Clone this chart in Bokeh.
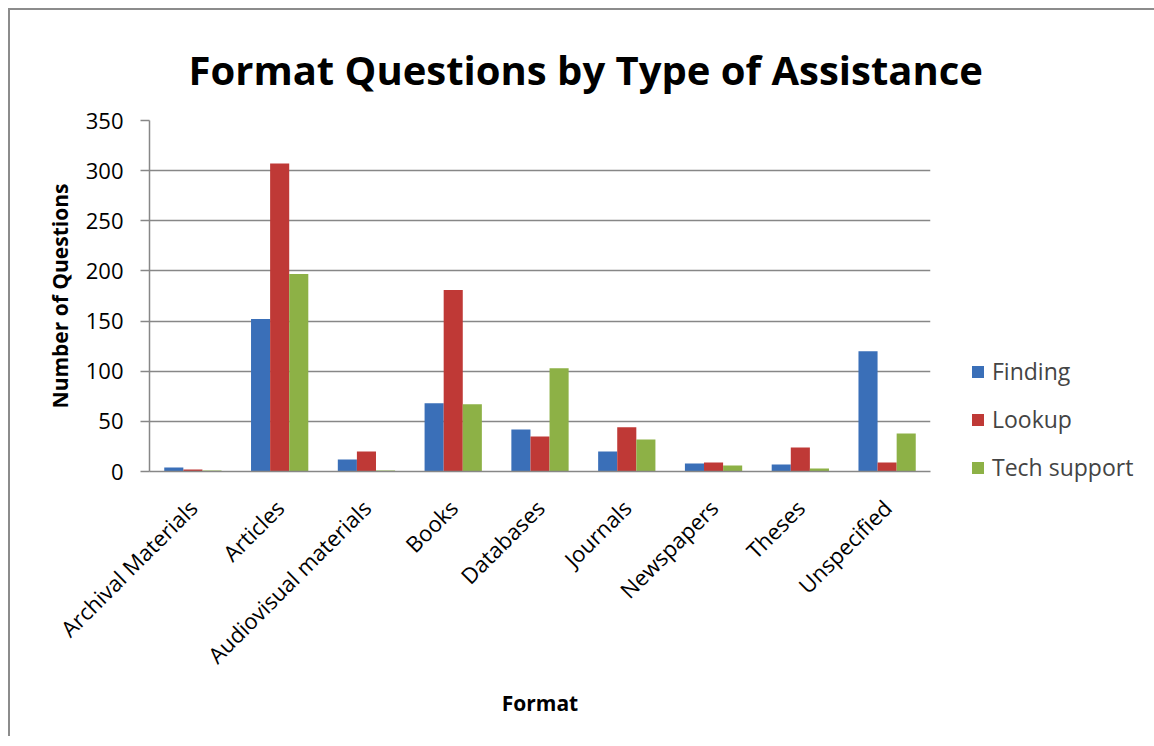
import math
from bokeh.plotting import figure
from bokeh.models import FactorRange, ColumnDataSource, Legend, LegendItem, Range1d
from bokeh.transform import dodge
from bokeh.embed import file_html
from bokeh.resources import INLINE

categories = ["Archival Materials", "Articles", "Audiovisual materials", "Books",
              "Databases", "Journals", "Newspapers", "Theses", "Unspecified"]
finding = [4, 152, 12, 68, 42, 20, 8, 7, 120]
lookup = [2, 307, 20, 181, 35, 44, 9, 24, 9]
tech_support = [1, 197, 1, 67, 103, 32, 6, 3, 38]
series_names = ["Finding", "Lookup", "Tech support"]
colors = ["#3a6fb8", "#bf3936", "#8db146"]
y_ticks = [0, 50, 100, 150, 200, 250, 300, 350]

FONT = "Open Sans"
GRID = "#878787"

src = ColumnDataSource(data=dict(cat=categories, finding=finding, lookup=lookup, tech=tech_support))

p = figure(frame_width=781, frame_height=351, x_range=FactorRange(*categories, range_padding=0),
           y_range=Range1d(0, 350), output_backend="svg", toolbar_location=None,
           min_border_left=139, min_border_right=214, min_border_top=110, min_border_bottom=265,
           title="Format Questions by Type of Assistance")
p.styles = {"margin-left": "8px", "margin-top": "8px",
            "border-left": "2px solid #8c8c8c", "border-top": "2px solid #8c8c8c"}
p.border_fill_color = "white"
p.outline_line_color = None

p.title.align = "left"
p.title.vertical_align = "top"
p.title.offset = 39
p.title.standoff = 44
p.title.text_font = FONT
p.title.text_font_style = "bold"
p.title.text_font_size = "40px"
p.title.text_color = "black"

fields = ["finding", "lookup", "tech"]
renderers = []
for i, f in enumerate(fields):
    r = p.vbar(x=dodge("cat", (i - 1) * 0.22, range=p.x_range), top=f, width=0.22,
               source=src, fill_color=colors[i], line_color=None)
    renderers.append(r)

p.xgrid.grid_line_color = None
p.ygrid.grid_line_color = GRID
p.ygrid.grid_line_width = 1.5
p.ygrid.level = "underlay"

p.yaxis.ticker = y_ticks
p.yaxis.axis_line_color = GRID
p.yaxis.axis_line_width = 1.5
p.yaxis.major_tick_line_color = GRID
p.yaxis.major_tick_line_width = 1.5
p.yaxis.major_tick_out = 9
p.yaxis.major_tick_in = 0
p.yaxis.minor_tick_line_color = None
p.yaxis.major_label_text_font = FONT
p.yaxis.major_label_text_font_size = "22px"
p.yaxis.major_label_text_color = "black"
p.yaxis.major_label_standoff = 17
p.yaxis.axis_label = "Number of Questions"
p.yaxis.axis_label_text_font = FONT
p.yaxis.axis_label_text_font_style = "bold"
p.yaxis.axis_label_text_font_size = "21px"
p.yaxis.axis_label_text_color = "black"
p.yaxis.axis_label_standoff = 9

p.xaxis.axis_line_color = GRID
p.xaxis.axis_line_width = 1.5
p.xaxis.major_tick_line_color = None
p.xaxis.minor_tick_line_color = None
p.xaxis.major_label_orientation = math.pi / 4
p.xaxis.major_label_text_font = FONT
p.xaxis.major_label_text_font_size = "22px"
p.xaxis.major_label_text_color = "black"
p.xaxis.major_label_standoff = 26
p.xaxis.axis_label = "Format"
p.xaxis.axis_label_text_font = FONT
p.xaxis.axis_label_text_font_style = "bold"
p.xaxis.axis_label_text_font_size = "21px"
p.xaxis.axis_label_text_color = "black"
p.xaxis.axis_label_standoff = 6

legend = Legend(items=[LegendItem(label=n, renderers=[r]) for n, r in zip(series_names, renderers)],
                location=(40, -12))
legend.glyph_width = 15
legend.glyph_height = 15
legend.label_height = 20
legend.label_text_font = FONT
legend.label_text_font_size = "23px"
legend.label_standoff = 7
legend.spacing = 16
legend.padding = 0
legend.margin = 0
legend.border_line_color = None
legend.background_fill_alpha = 0
p.add_layout(legend, "right")

open("out.html", "w").write(file_html(p, INLINE))
